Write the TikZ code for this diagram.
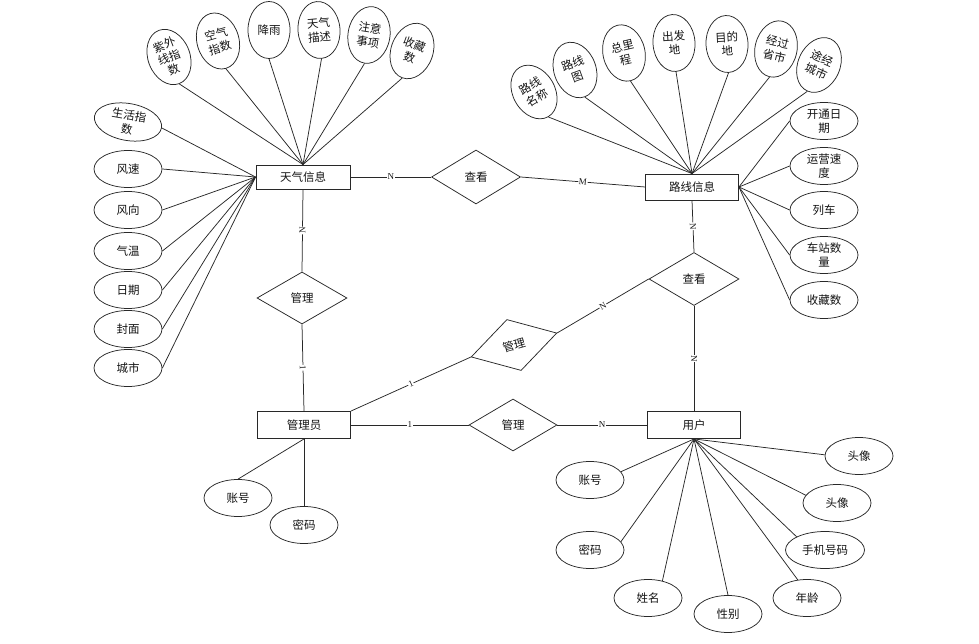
\documentclass[tikz,border=0pt]{standalone}
\usepackage{fontspec}
\usepackage{tikz}
\usetikzlibrary{shapes.geometric}
\setmainfont{Liberation Serif}
\newfontfamily\cjk{Noto Sans CJK SC}
\definecolor{erline}{RGB}{40,40,40}
\definecolor{ertext}{RGB}{20,20,20}
\tikzset{
  entity/.style={rectangle, draw=erline, fill=white, minimum width=93pt,
    minimum height=26pt, inner sep=0pt, text=ertext,
    font=\cjk\fontsize{11.5}{14}\selectfont, line width=0.9pt},
  relation/.style={diamond, draw=erline, fill=white, minimum width=89pt,
    minimum height=53pt, inner sep=0pt, text=ertext,
    font=\cjk\fontsize{11.5}{14}\selectfont, line width=0.75pt},
  attr/.style={ellipse, draw=erline, fill=white, minimum width=68pt,
    minimum height=37pt, inner sep=0pt, align=center, text=ertext,
    font=\cjk\fontsize{11.5}{14}\selectfont, line width=0.75pt},
  vattr/.style={attr, minimum width=42pt, minimum height=57pt},
  card/.style={fill=white, sloped, inner sep=0.6pt, text=ertext,
    font=\fontsize{9}{9}\selectfont},
  link/.style={draw=erline, line width=0.75pt}
}
\begin{document}
\begin{tikzpicture}[x=1pt, y=-1pt]
  \useasboundingbox (0,0) rectangle (979,644);

  % Entities
  \node[entity, minimum width=94pt, minimum height=24pt] (weather) at (303,177) {天气信息};
  \node[entity] (route) at (692,187) {路线信息};
  \node[entity, minimum height=27pt] (admin) at (304,425) {管理员};
  \node[entity, minimum height=27pt] (user) at (694,425) {用户};

  % Relationships
  \node[relation, minimum height=54pt] (viewA) at (476,177) {查看};
  \node[relation, minimum width=90pt, minimum height=52pt] (mgrA) at (302,298) {管理};
  \node[relation, minimum width=90pt] (viewB) at (694,279) {查看};
  \node[relation, rotate=15.6] (mgrB) at (514,345) {管理};
  \node[relation, minimum width=88pt, minimum height=52pt] (mgrC) at (513,425) {管理};

  % Weather attributes, top row
  \node[vattr, rotate=21, font=\cjk\fontsize{11.5}{13}\selectfont] (wUv) at (169,57) {紫外\\线指\\数};
  \node[vattr, rotate=16] (wAir) at (218,41) {空气\\指数};
  \node[vattr] (wRain) at (269,30) {降雨};
  \node[vattr, rotate=5] (wDesc) at (319,30) {天气\\描述};
  \node[vattr, rotate=-9] (wNote) at (369,35) {注意\\事项};
  \node[vattr, rotate=-20] (wFav) at (412,51) {收藏\\数};
  % Weather attributes, left column
  \node[attr, rotate=-10] (wLife) at (128,122) {生活指\\数};
  \node[attr] (wSpeed) at (128,169) {风速};
  \node[attr] (wDir) at (128,210) {风向};
  \node[attr] (wTemp) at (128,251) {气温};
  \node[attr] (wDate) at (128,290) {日期};
  \node[attr] (wCover) at (128,329) {封面};
  \node[attr] (wCity) at (128,368) {城市};

  % Route attributes, top row
  \node[vattr, rotate=30] (rName) at (534,92) {路线\\名称};
  \node[vattr, rotate=20] (rMap) at (575,70) {路线\\图};
  \node[vattr, rotate=13] (rDist) at (624,53) {总里\\程};
  \node[vattr, rotate=4] (rFrom) at (674,43) {出发\\地};
  \node[vattr, rotate=3] (rTo) at (727,44) {目的\\地};
  \node[vattr, rotate=-13] (rProv) at (776,49) {经过\\省市};
  \node[vattr, rotate=-24] (rCity) at (819,65) {途经\\城市};
  % Route attributes, right column
  \node[attr] (rOpen) at (824,121) {开通日\\期};
  \node[attr] (rSpeed) at (824,166) {运营速\\度};
  \node[attr] (rTrain) at (824,210) {列车};
  \node[attr] (rStation) at (824,255) {车站数\\量};
  \node[attr] (rFav) at (824,300) {收藏数};

  % User attributes
  \node[attr] (uAcc) at (590,480) {账号};
  \node[attr] (uPwd) at (590,550) {密码};
  \node[attr] (uName) at (648,598) {姓名};
  \node[attr] (uSex) at (728,614) {性别};
  \node[attr] (uAge) at (807,598) {年龄};
  \node[attr, minimum width=79pt] (uPhone) at (825,550) {手机号码};
  \node[attr] (uHeadB) at (837,503) {头像};
  \node[attr] (uHeadA) at (859,456) {头像};

  % Admin attributes
  \node[attr] (aAcc) at (238,498) {账号};
  \node[attr] (aPwd) at (304,525) {密码};

  % Weather links
  \draw[link] (weather.north) -- (wUv.south);
  \draw[link] (weather.north) -- (wAir.south);
  \draw[link] (weather.north) -- (wRain.south);
  \draw[link] (weather.north) -- (wDesc.south);
  \draw[link] (weather.north) -- (wNote.south);
  \draw[link] (weather.north) -- (wFav.south);
  \draw[link] (weather.west) -- (wLife.east);
  \draw[link] (weather.west) -- (wSpeed.east);
  \draw[link] (weather.west) -- (wDir.east);
  \draw[link] (weather.west) -- (wTemp.east);
  \draw[link] (weather.west) -- (wDate.east);
  \draw[link] (weather.west) -- (wCover.east);
  \draw[link] (weather.west) -- (wCity.east);

  % Route links
  \draw[link] (route.north) -- (rName.south);
  \draw[link] (route.north) -- (rMap.south);
  \draw[link] (route.north) -- (rDist.south);
  \draw[link] (route.north) -- (rFrom.south);
  \draw[link] (route.north) -- (rTo.south);
  \draw[link] (route.north) -- (rProv.south);
  \draw[link] (route.north) -- (rCity.south);
  \draw[link] (route.east) -- (rOpen.west);
  \draw[link] (route.east) -- (rSpeed.west);
  \draw[link] (route.east) -- (rTrain.west);
  \draw[link] (route.east) -- (rStation.west);
  \draw[link] (route.east) -- (rFav.west);

  % User links
  \draw[link] (user.south) -- (uAcc.15);
  \draw[link] (user.south) -- (uPwd.15);
  \draw[link] (user.south) -- (uName.50);
  \draw[link] (user.south) -- (uSex.north);
  \draw[link] (user.south) -- (uAge.117);
  \draw[link] (user.south) -- (uPhone.155);
  \draw[link] (user.south) -- (uHeadB.166);
  \draw[link] (user.south) -- (uHeadA.178);

  % Admin links
  \draw[link] (admin.south) -- (aAcc.north);
  \draw[link] (admin.south) -- (aPwd.north);

  % Relationship links with cardinalities
  \draw[link] (weather.east) -- (viewA.west) node[card, midway] {N};
  \draw[link] (viewA.east) -- (route.west) node[card, midway] {M};
  \draw[link] (weather.south) -- (mgrA.north) node[card, midway] {N};
  \draw[link] (mgrA.south) -- (admin.north) node[card, midway] {1};
  \draw[link] (route.south) -- (viewB.north) node[card, midway] {N};
  \draw[link] (viewB.south) -- (user.north) node[card, midway] {N};
  \draw[link] (admin.north east) -- (mgrB.west) node[card, midway] {1};
  \draw[link] (mgrB.east) -- (viewB.west) node[card, midway] {N};
  \draw[link] (admin.east) -- (mgrC.west) node[card, midway] {1};
  \draw[link] (mgrC.east) -- (user.west) node[card, midway] {N};
\end{tikzpicture}
\end{document}
